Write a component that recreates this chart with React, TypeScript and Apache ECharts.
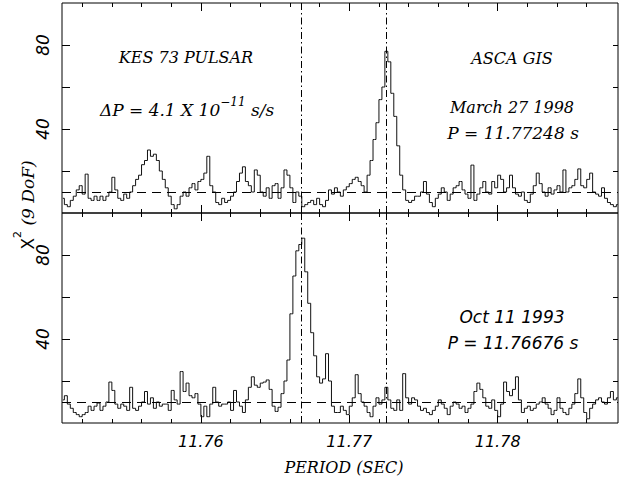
import React, { useEffect, useRef } from "react";
import * as echarts from "echarts";

// Period grid of the periodogram (s)
const PERIOD_START = 11.7507;
const PERIOD_STEP = 0.0002;

// Axis range and ticks
const X_MIN = 11.75064;
const X_MAX = 11.78811;
const X_MAJOR = [11.76, 11.77, 11.78];
const X_MINOR = [11.752, 11.754, 11.756, 11.758, 11.762, 11.764, 11.766, 11.768, 11.772, 11.774, 11.776, 11.778, 11.782, 11.784, 11.786];
const Y_TICKS = [20, 40, 60, 80];
const Y_LABELS = [40, 80];
const CHI2_MEAN = 10;
const PERIOD_1998 = 11.77248;
const PERIOD_1993 = 11.76676;

// ASCA GIS, March 27 1998 (chi^2, 9 DoF)
const CHI2_1998 = [
  7, 4, 3, 6, 8, 11, 13, 9, 18.5, 7,
  6, 8, 6, 8, 6, 8, 10, 17, 11, 7,
  6, 9, 7, 10, 13, 16, 18, 23, 25, 30,
  27, 28, 25, 20, 16, 12, 8, 4, 2, 4,
  8, 10, 8, 12, 14, 11, 15, 16, 19, 27,
  13, 10, 5, 4, 7, 5, 6, 8, 10, 15,
  19, 22, 15, 13, 10, 20.5, 18, 10, 8, 12,
  7, 13, 14, 7, 12, 20.5, 18, 12, 5, 10,
  8, 3, 4, 5, 6, 4, 7, 4, 3, 6,
  11, 9, 12, 10, 8, 11, 12.5, 14, 16, 17,
  15, 13, 10, 18, 25, 35, 43, 54, 60, 77,
  72, 57, 46, 32, 18, 11, 6, 5, 6, 8,
  8, 10, 15, 9, 5, 3, 7, 9, 12, 10,
  6, 9, 12, 13, 15, 11, 9, 7, 22.8, 6,
  9, 12, 15, 10, 9, 15, 12, 18, 16, 10,
  12, 18, 12, 9, 8, 10, 6, 5, 9, 13,
  19, 14, 10, 8, 12, 9, 11, 13, 10, 20.5,
  10, 12, 13, 16, 21, 13, 12, 16, 19, 10,
  9, 8, 12, 7, 5, 4, 3, 4,
];

// Oct 11 1993 (chi^2, 9 DoF)
const CHI2_1993 = [
  11, 13, 9, 7, 5, 4, 3, 4, 5, 8,
  6, 8, 9.5, 6, 8, 10, 19.5, 15.5, 9, 7,
  9, 8, 6, 17, 7, 6, 8, 10, 15, 9,
  12, 7, 10, 8, 9, 9, 6, 15.5, 11, 9,
  24.5, 15, 19, 13, 12, 14, 9, 3, 8, 3,
  9, 17, 10, 8, 9, 9, 10, 6, 15.5, 10,
  8, 5, 11, 17, 22, 18, 17, 19, 19.5, 20.5,
  16, 8, 5.5, 7.5, 14, 20, 30, 52, 70, 82,
  85, 88, 72, 57, 43, 32, 22, 19, 21, 33,
  20, 8, 5, 5, 8, 6, 4, 8, 12, 23,
  14, 10, 8, 5, 3, 8, 12, 9, 11, 17,
  11, 7, 6, 11, 6, 23.5, 12, 9, 12, 11,
  8, 6, 7, 5, 4, 6, 8, 11, 9, 7,
  4, 8, 10, 9, 7, 8, 5, 7, 9, 15,
  19, 16, 12, 8, 7, 11, 6, 3, 9, 19.5,
  15, 13, 16, 22, 11, 5, 7, 8, 6, 7,
  9, 10, 12, 9, 7, 4, 6, 12, 7, 5,
  4, 7, 9, 14, 21, 12, 5, 2, 7, 9,
  11, 12, 10, 9, 12, 15, 11, 12,
];

const SERIF = "DejaVu Serif";
const SANS = "DejaVu Sans";

function pairs(values: number[]) {
  return values.map((v, i) => [+(PERIOD_START + i * PERIOD_STEP).toFixed(5), v]);
}

function xAxesFor(g: number, labels: boolean) {
  const base = {
    type: "value",
    gridIndex: g,
    min: X_MIN,
    max: X_MAX,
    axisLine: { show: false },
    splitLine: { show: false },
  };
  const tick = (len: number, vals: number[]) => ({
    show: true,
    inside: true,
    length: len,
    customValues: vals,
    lineStyle: { color: "#000", width: 1 },
  });
  return [
    {
      ...base,
      position: "bottom",
      axisTick: tick(8, X_MAJOR),
      axisLabel: labels
        ? {
            show: true,
            customValues: X_MAJOR,
            margin: 10,
            color: "#000",
            fontFamily: SANS,
            fontStyle: "italic",
            fontSize: 16,
            formatter: (v: number) => v.toFixed(2),
          }
        : { show: false },
    },
    { ...base, position: "bottom", axisTick: tick(4, X_MINOR), axisLabel: { show: false } },
    { ...base, position: "top", axisTick: tick(8, X_MAJOR), axisLabel: { show: false } },
    { ...base, position: "top", axisTick: tick(4, X_MINOR), axisLabel: { show: false } },
  ];
}

function yAxesFor(g: number) {
  const base = {
    type: "value",
    gridIndex: g,
    min: 0,
    max: 100,
    axisLine: { show: false },
    splitLine: { show: false },
  };
  return [
    {
      ...base,
      position: "left",
      axisTick: { show: true, inside: true, length: 8, customValues: Y_TICKS, lineStyle: { color: "#000" } },
      axisLabel: {
        show: true,
        customValues: Y_LABELS,
        rotate: 90,
        margin: 11,
        color: "#000",
        fontFamily: SANS,
        fontStyle: "italic",
        fontSize: 17,
      },
    },
    {
      ...base,
      position: "right",
      axisTick: { show: true, inside: true, length: 5, customValues: Y_TICKS, lineStyle: { color: "#000" } },
      axisLabel: { show: false },
    },
  ];
}

function marks() {
  return {
    symbol: ["none", "none"],
    silent: true,
    precision: 6,
    label: { show: false },
    emphasis: { disabled: true },
    data: [
      { yAxis: CHI2_MEAN, lineStyle: { color: "#000", width: 1, type: [9, 6] } },
      { xAxis: PERIOD_1993, lineStyle: { color: "#000", width: 1, type: [7, 3, 1.5, 3] } },
      { xAxis: PERIOD_1998, lineStyle: { color: "#000", width: 1, type: [7, 3, 1.5, 3] } },
    ],
  };
}

function txt(x: number, y: number, text: string, family: string, size: number) {
  return {
    type: "text",
    x,
    y,
    style: {
      text,
      fontFamily: family,
      fontStyle: "italic",
      fontSize: size,
      fill: "#000",
      align: "center",
      verticalAlign: "middle",
      textAlign: "center",
      textVerticalAlign: "middle",
    },
  };
}

export default function App() {
  const ref = useRef<HTMLDivElement>(null);
  useEffect(() => {
    if (!ref.current) return;
    const chart = echarts.init(ref.current, undefined, { renderer: "svg" });
    const lineBase = {
      type: "line",
      step: "middle",
      showSymbol: false,
      symbol: "none",
      silent: true,
      clip: true,
      lineStyle: { color: "#111", width: 1 },
    };
    const option = {
      animation: false,
      backgroundColor: "#fff",
      grid: [
        { left: 62, top: 3, width: 556, height: 210, show: true, borderColor: "#000", borderWidth: 1, backgroundColor: "transparent" },
        { left: 62, top: 213, width: 556, height: 210, show: true, borderColor: "#000", borderWidth: 1, backgroundColor: "transparent" },
      ],
      xAxis: [...xAxesFor(0, false), ...xAxesFor(1, true)],
      yAxis: [...yAxesFor(0), ...yAxesFor(1)],
      series: [
        { ...lineBase, name: "1998", xAxisIndex: 0, yAxisIndex: 0, data: pairs(CHI2_1998), markLine: marks() },
        { ...lineBase, name: "1993", xAxisIndex: 4, yAxisIndex: 2, data: pairs(CHI2_1993), markLine: marks() },
      ],
      graphic: [
        txt(186, 57, "KES 73 PULSAR", SERIF, 16),
        {
          type: "text",
          x: 187,
          y: 107,
          style: {
            text: "{n|ΔP = 4.1 X 10}{s|−11}{n| s/s}",
            fill: "#000",
            align: "center",
            verticalAlign: "middle",
            textAlign: "center",
            textVerticalAlign: "middle",
            rich: {
              n: { fontFamily: SERIF, fontStyle: "italic", fontSize: 17, lineHeight: 22, verticalAlign: "bottom", fill: "#000" },
              s: { fontFamily: SERIF, fontStyle: "italic", fontSize: 12, lineHeight: 12, verticalAlign: "top", fill: "#000" },
            },
          },
        },
        txt(512, 58, "ASCA GIS", SERIF, 16),
        txt(512, 107, "March 27 1998", SERIF, 16),
        txt(513, 133, "P = 11.77248 s", SERIF, 17),
        txt(512, 317, "Oct 11 1993", SANS, 17),
        txt(513, 343, "P = 11.76676 s", SANS, 17),
        txt(344, 467, "PERIOD (SEC)", SERIF, 16),
        {
          type: "text",
          x: 24,
          y: 205,
          rotation: Math.PI / 2,
          style: {
            text: "{x|X}{s|2}{t| (9 DoF)}",
            fill: "#000",
            align: "center",
            verticalAlign: "middle",
            textAlign: "center",
            textVerticalAlign: "middle",
            rich: {
              x: { fontFamily: SANS, fontSize: 17, lineHeight: 24, verticalAlign: "bottom", fill: "#000" },
              s: { fontFamily: SANS, fontSize: 11, lineHeight: 12, verticalAlign: "top", fill: "#000" },
              t: { fontFamily: SERIF, fontStyle: "italic", fontSize: 17, lineHeight: 24, verticalAlign: "bottom", fill: "#000" },
            },
          },
        },
      ],
    };
    chart.setOption(option as any);
    return () => chart.dispose();
  }, []);
  return (
    <div
      ref={ref}
      style={{ position: "absolute", left: 0, top: 0, width: 619, height: 486, background: "#fff" }}
    />
  );
}
